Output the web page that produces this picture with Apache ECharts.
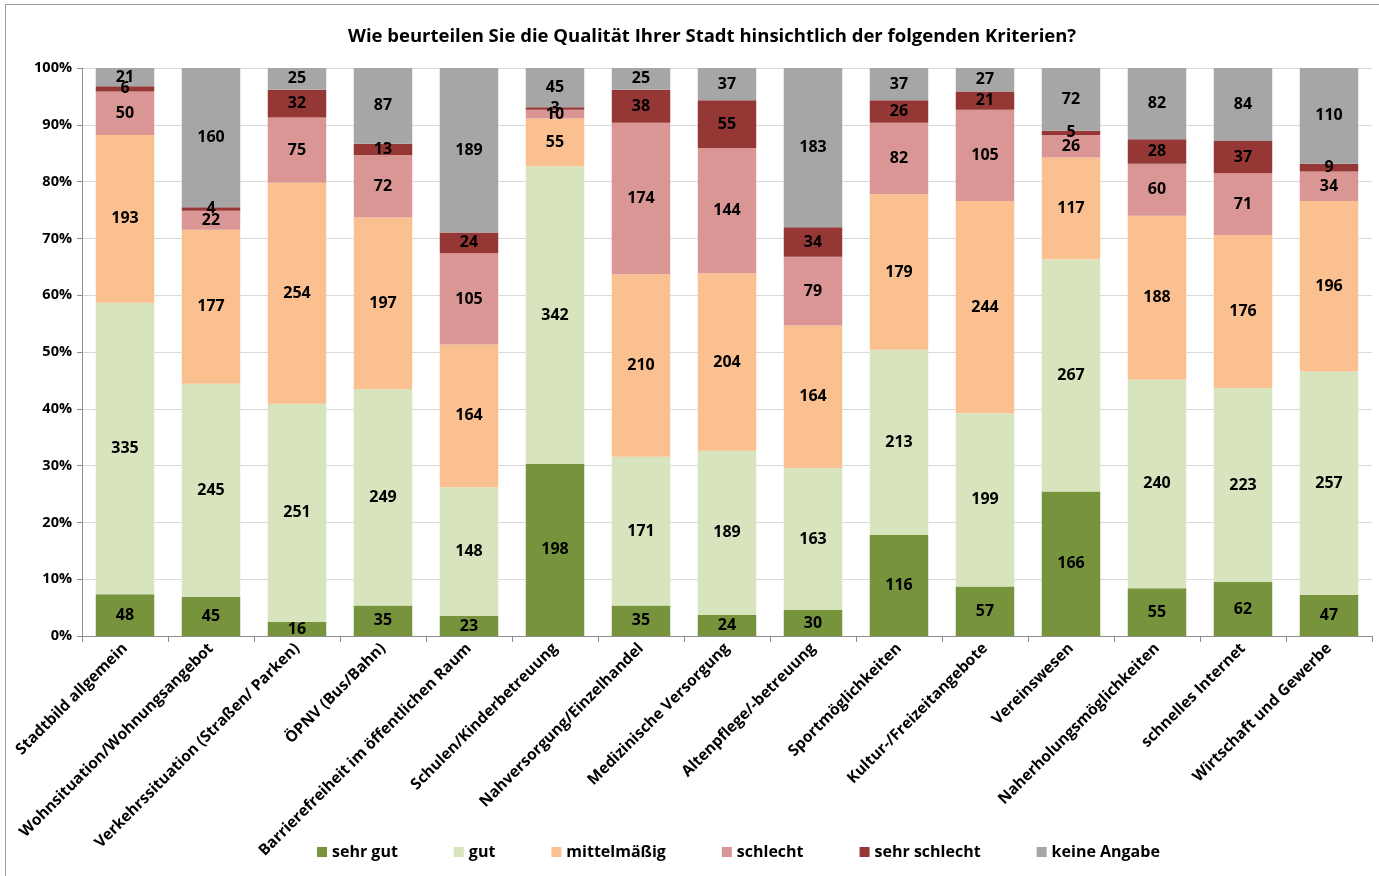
<!DOCTYPE html>
<html><head><meta charset="utf-8">
<script src="https://cdn.jsdelivr.net/npm/echarts@6/dist/echarts.min.js"></script>
<style>
html,body{margin:0;padding:0;background:#fff;}
#frame{position:absolute;left:5px;top:4px;width:1380px;height:880px;border-top:1px solid #9a9a9a;border-left:1px solid #9a9a9a;}
#c{position:absolute;left:0;top:0;width:1379px;height:876px;}
</style></head>
<body><div id="frame"></div><div id="c"></div>
<script>
const categories = ["Stadtbild allgemein","Wohnsituation/Wohnungsangebot","Verkehrssituation (Straßen/ Parken)","ÖPNV (Bus/Bahn)","Barrierefreiheit im öffentlichen Raum","Schulen/Kinderbetreuung","Nahversorgung/Einzelhandel","Medizinische Versorgung","Altenpflege/-betreuung","Sportmöglichkeiten","Kultur-/Freizeitangebote","Vereinswesen","Naherholungsmöglichkeiten","schnelles Internet","Wirtschaft und Gewerbe"];
const seriesNames = ["sehr gut","gut","mittelmäßig","schlecht","sehr schlecht","keine Angabe"];
const sehrGut     = [48,45,16,35,23,198,35,24,30,116,57,166,55,62,47];
const gut         = [335,245,251,249,148,342,171,189,163,213,199,267,240,223,257];
const mittel      = [193,177,254,197,164,55,210,204,164,179,244,117,188,176,196];
const schlecht    = [50,22,75,72,105,10,174,144,79,82,105,26,60,71,34];
const sehrSchlecht= [6,4,32,13,24,3,38,55,34,26,21,5,28,37,9];
const keineAngabe = [21,160,25,87,189,45,25,37,183,37,27,72,82,84,110];
const yTicks = [0,10,20,30,40,50,60,70,80,90,100];

const raw = [sehrGut,gut,mittel,schlecht,sehrSchlecht,keineAngabe];
const colors = ["#77933C","#D7E4BD","#FAC090","#D99694","#953735","#A6A6A6"];
const totals = categories.map((_,i)=>raw.reduce((s,a)=>s+a[i],0));
const FONT = "Open Sans";

const chart = echarts.init(document.getElementById('c'));
chart.setOption({
  animation:false,
  textStyle:{fontFamily:FONT},
  title:{text:"Wie beurteilen Sie die Qualität Ihrer Stadt hinsichtlich der folgenden Kriterien?",left:343,top:22,
    textStyle:{fontFamily:FONT,fontWeight:'bold',fontSize:18.5,color:'#000'}},
  legend:{bottom:11,left:312,itemWidth:10,itemHeight:10,itemGap:56,icon:'rect',
    textStyle:{fontFamily:FONT,fontWeight:'bold',fontSize:16,color:'#000'},data:seriesNames},
  grid:{left:82,right:7,top:68,bottom:240},
  xAxis:{type:'category',data:categories,
    axisLine:{lineStyle:{color:'#8c8c8c'}},
    axisTick:{show:true,alignWithLabel:false,length:6,lineStyle:{color:'#8c8c8c'}},
    axisLabel:{rotate:45,interval:0,fontFamily:FONT,fontWeight:'bold',fontSize:15.5,color:'#000',margin:10}},
  yAxis:{type:'value',min:0,max:100,interval:10,
    axisLine:{show:true,lineStyle:{color:'#8c8c8c'}},
    axisTick:{show:true,length:5,lineStyle:{color:'#8c8c8c'}},
    splitLine:{lineStyle:{color:'#d9d9d9'}},
    axisLabel:{formatter:v=>yTicks.includes(v)?v+'%':'',fontFamily:FONT,fontWeight:'bold',fontSize:14.5,color:'#000',margin:10}},
  series: seriesNames.map((n,k)=>({
    name:n,type:'bar',stack:'a',barCategoryGap:'32%',
    itemStyle:{color:colors[k]},
    data: raw[k].map((v,i)=>({value:v/totals[i]*100,raw:v})),
    label:{show:true,position:'inside',formatter:p=>p.data.raw,fontFamily:FONT,fontWeight:'bold',fontSize:16,color:'#000'}
  }))
});
</script></body></html>
